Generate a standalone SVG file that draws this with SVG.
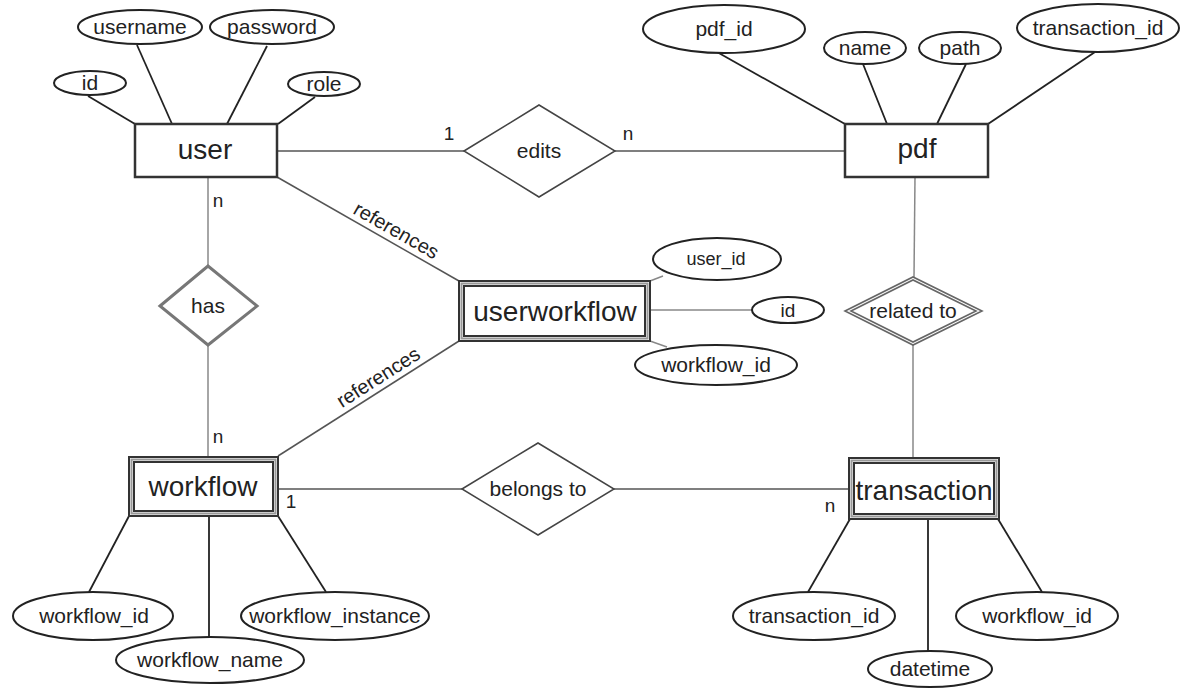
<svg xmlns="http://www.w3.org/2000/svg" width="1189" height="688" viewBox="0 0 1189 688">
  <style>
    text { font-family: "Liberation Sans", Arial, Helvetica, sans-serif; fill: #222; text-anchor: middle; }
    .ent { font-size: 28px; }
    .rel { font-size: 21px; }
    .att { font-size: 21px; }
    .card { font-size: 19px; }
    .lbl { font-size: 20px; }
    .box { fill: #fff; stroke: #333; stroke-width: 2.5; }
    .wk-out { fill: #fff; stroke: #333; stroke-width: 2; }
    .wk-mid { fill: none; stroke: #999; stroke-width: 2; }
    .wk-in { fill: none; stroke: #333; stroke-width: 2; }
    .oval { fill: #fff; stroke: #222; stroke-width: 2; }
    .dia { fill: #fff; stroke: #444; stroke-width: 1.5; }
    .dia-g { fill: #fff; stroke: #777; stroke-width: 3; }
    .dia-d { fill: none; stroke: #666; stroke-width: 1.6; }
    .ln { stroke: #222; stroke-width: 1.8; fill: none; }
    .ln-r { stroke: #555; stroke-width: 1.5; fill: none; }
    .ln-l { stroke: #888; stroke-width: 1.5; fill: none; }
  </style>

  <!-- connectors -->
  <g id="connectors">
    <!-- user attributes -->
    <line class="ln" x1="88" y1="96" x2="135" y2="124"/>
    <line class="ln" x1="137" y1="45" x2="172" y2="124"/>
    <line class="ln" x1="267" y1="46" x2="227" y2="124"/>
    <line class="ln" x1="315" y1="97" x2="278" y2="124"/>
    <!-- pdf attributes -->
    <line class="ln" x1="717" y1="52" x2="845" y2="124"/>
    <line class="ln" x1="863" y1="64" x2="887" y2="124"/>
    <line class="ln" x1="966" y1="64" x2="937" y2="124"/>
    <line class="ln" x1="1095" y1="52" x2="988" y2="124"/>
    <!-- user - edits - pdf -->
    <line class="ln-r" x1="277" y1="151" x2="464" y2="151"/>
    <line class="ln-r" x1="615" y1="151" x2="845" y2="151"/>
    <!-- user - has - workflow -->
    <line class="ln-l" x1="208" y1="177" x2="208" y2="266"/>
    <line class="ln-l" x1="208" y1="346" x2="208" y2="457"/>
    <!-- userworkflow references -->
    <line class="ln-r" x1="277" y1="177" x2="459" y2="281"/>
    <line class="ln-r" x1="278" y1="456" x2="459" y2="341"/>
    <!-- userworkflow attributes -->
    <line class="ln-l" x1="650" y1="281" x2="663" y2="276"/>
    <line class="ln-l" x1="650" y1="310" x2="752" y2="310"/>
    <line class="ln-l" x1="650" y1="341" x2="667" y2="347"/>
    <!-- pdf - related to - transaction -->
    <line class="ln-l" x1="915" y1="177" x2="914" y2="277"/>
    <line class="ln-l" x1="913" y1="345" x2="913" y2="458"/>
    <!-- workflow - belongs to - transaction -->
    <line class="ln-r" x1="278" y1="489" x2="462" y2="489"/>
    <line class="ln-r" x1="614" y1="489" x2="849" y2="489"/>
    <!-- workflow attributes -->
    <line class="ln" x1="129" y1="516" x2="89" y2="592"/>
    <line class="ln" x1="209" y1="516" x2="209" y2="637"/>
    <line class="ln" x1="278" y1="516" x2="326" y2="592"/>
    <!-- transaction attributes -->
    <line class="ln" x1="850" y1="519" x2="808" y2="592"/>
    <line class="ln" x1="928" y1="519" x2="928" y2="652"/>
    <line class="ln" x1="998" y1="519" x2="1042" y2="592"/>

    <!-- cardinalities -->
    <text class="card" x="449" y="140">1</text>
    <text class="card" x="628" y="140">n</text>
    <text class="card" x="218" y="207">n</text>
    <text class="card" x="218" y="443">n</text>
    <text class="card" x="291" y="508">1</text>
    <text class="card" x="830" y="512">n</text>

    <!-- connector labels -->
    <text class="lbl" transform="translate(390,241.6) rotate(29.7)" y="-6">references</text>
    <text class="lbl" transform="translate(385,388) rotate(-32.4)" y="-6">references</text>
  </g>

  <!-- entities -->
  <g id="user">
    <rect class="box" x="135" y="124" width="142" height="53"/>
    <text class="ent" x="205" y="159">user</text>
  </g>
  <g id="pdf">
    <rect class="box" x="845" y="124" width="143" height="53"/>
    <text class="ent" x="917" y="158">pdf</text>
  </g>
  <g id="userworkflow">
    <rect class="wk-out" x="459" y="281" width="191" height="60"/>
    <rect class="wk-mid" x="461.5" y="283.5" width="186" height="55"/>
    <rect class="wk-in" x="464" y="286" width="181" height="50"/>
    <text class="ent" x="555" y="321">userworkflow</text>
  </g>
  <g id="workflow">
    <rect class="wk-out" x="129" y="457" width="149" height="59"/>
    <rect class="wk-mid" x="131.5" y="459.5" width="144" height="54"/>
    <rect class="wk-in" x="134" y="462" width="139" height="49"/>
    <text class="ent" x="203" y="496">workflow</text>
  </g>
  <g id="transaction">
    <rect class="wk-out" x="849" y="458" width="150" height="61"/>
    <rect class="wk-mid" x="851.5" y="460.5" width="145" height="56"/>
    <rect class="wk-in" x="854" y="463" width="140" height="51"/>
    <text class="ent" x="924" y="500">transaction</text>
  </g>

  <!-- relationships -->
  <g id="edits">
    <polygon class="dia" points="464,151 539,105 615,151 539,197"/>
    <text class="rel" x="539" y="158">edits</text>
  </g>
  <g id="has">
    <polygon class="dia-g" points="160,306 208,266 257,306 208,345"/>
    <text class="rel" x="208" y="313">has</text>
  </g>
  <g id="related-to">
    <polygon class="dia" style="stroke:none" points="845,311 913,277 982,311 913,345"/>
    <polygon class="dia-d" points="845,311 913,277 982,311 913,345"/>
    <polygon class="dia-d" points="851,311 913,280 976,311 913,342"/>
    <text class="rel" x="913" y="318">related to</text>
  </g>
  <g id="belongs-to">
    <polygon class="dia" points="462,489 538,443 614,489 538,535"/>
    <text class="rel" x="538" y="496">belongs to</text>
  </g>

  <!-- user attributes -->
  <g id="user-username">
    <ellipse class="oval" cx="140" cy="27" rx="62" ry="17"/>
    <text class="att" x="140" y="34">username</text>
  </g>
  <g id="user-password">
    <ellipse class="oval" cx="272" cy="27" rx="62" ry="17"/>
    <text class="att" x="272" y="34">password</text>
  </g>
  <g id="user-id">
    <ellipse class="oval" cx="90" cy="83" rx="36" ry="12"/>
    <text class="att" x="90" y="90">id</text>
  </g>
  <g id="user-role">
    <ellipse class="oval" cx="324" cy="84" rx="36" ry="12"/>
    <text class="att" x="324" y="91">role</text>
  </g>

  <!-- pdf attributes -->
  <g id="pdf-pdf_id">
    <ellipse class="oval" cx="724" cy="29" rx="81" ry="24"/>
    <text class="att" x="724" y="36">pdf_id</text>
  </g>
  <g id="pdf-name">
    <ellipse class="oval" cx="865" cy="48" rx="41" ry="16"/>
    <text class="att" x="865" y="55">name</text>
  </g>
  <g id="pdf-path">
    <ellipse class="oval" cx="960" cy="48" rx="41" ry="16"/>
    <text class="att" x="960" y="55">path</text>
  </g>
  <g id="pdf-transaction_id">
    <ellipse class="oval" cx="1098" cy="28" rx="81" ry="24"/>
    <text class="att" x="1098" y="35">transaction_id</text>
  </g>

  <!-- userworkflow attributes -->
  <g id="userworkflow-user_id">
    <ellipse class="oval" cx="717" cy="259" rx="64" ry="21"/>
    <text class="att" style="font-size:18px" x="716" y="265">user_id</text>
  </g>
  <g id="userworkflow-id">
    <ellipse class="oval" cx="788" cy="310" rx="36" ry="13"/>
    <text class="att" style="font-size:19px" x="788" y="317">id</text>
  </g>
  <g id="userworkflow-workflow_id">
    <ellipse class="oval" cx="716" cy="365" rx="81" ry="20"/>
    <text class="att" x="716" y="372">workflow_id</text>
  </g>

  <!-- workflow attributes -->
  <g id="workflow-workflow_id">
    <ellipse class="oval" cx="93" cy="616" rx="80" ry="24"/>
    <text class="att" x="94" y="623">workflow_id</text>
  </g>
  <g id="workflow-workflow_name">
    <ellipse class="oval" cx="210" cy="660" rx="94" ry="23"/>
    <text class="att" x="210" y="667">workflow_name</text>
  </g>
  <g id="workflow-workflow_instance">
    <ellipse class="oval" cx="335" cy="616" rx="94" ry="24"/>
    <text class="att" x="335" y="623">workflow_instance</text>
  </g>

  <!-- transaction attributes -->
  <g id="transaction-transaction_id">
    <ellipse class="oval" cx="814" cy="616" rx="81" ry="24"/>
    <text class="att" x="814" y="623">transaction_id</text>
  </g>
  <g id="transaction-datetime">
    <ellipse class="oval" cx="930" cy="669" rx="62" ry="18"/>
    <text class="att" x="930" y="676">datetime</text>
  </g>
  <g id="transaction-workflow_id">
    <ellipse class="oval" cx="1037" cy="616" rx="81" ry="24"/>
    <text class="att" x="1037" y="623">workflow_id</text>
  </g>
</svg>
